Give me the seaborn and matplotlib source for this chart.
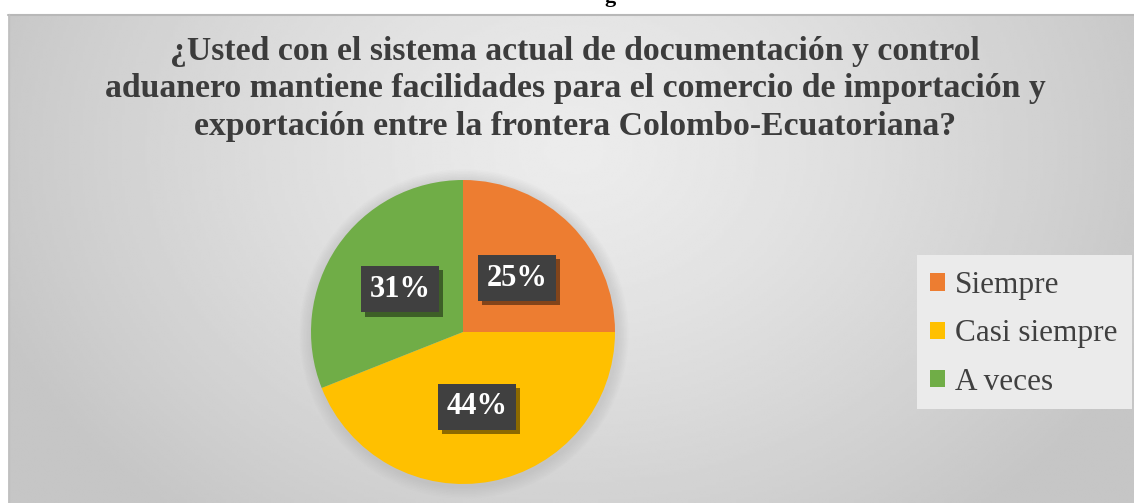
import numpy as np
import matplotlib
matplotlib.use("Agg")
import matplotlib.pyplot as plt
import matplotlib.patheffects as pe
import seaborn as sns

# Survey answers and their shares (%)
categories = ["Siempre", "Casi siempre", "A veces"]
shares = [25, 44, 31]
share_labels = ["25%", "44%", "31%"]
colors = ["#ED7D31", "#FFC000", "#70AD47"]
title_lines = [
    "¿Usted con el sistema actual de documentación y control",
    "aduanero mantiene facilidades para el comercio de importación y",
    "exportación entre la frontera Colombo-Ecuatoriana?",
]

sns.set_theme(style="white")
plt.rcParams["font.family"] = ["Liberation Serif", "DejaVu Serif"]

W, H = 1134, 503
fig = plt.figure(figsize=(W / 100, H / 100), dpi=100)
fig.patch.set_facecolor("white")

# Background panel with a soft grey gradient
bg = fig.add_axes([0, 0, 1, 1], zorder=0)
bg.set_xlim(0, W)
bg.set_ylim(H, 0)
bg.axis("off")
px0, py0 = 8, 14
gx = np.linspace(px0, W, 400)
gy = np.linspace(py0, H, 200)
GX, GY = np.meshgrid(gx, gy)
d = np.sqrt(((GX - 575) / 620) ** 2 + ((GY - 150) / 480) ** 2)
val = 0.925 - 0.15 * np.clip(d, 0, 1) ** 1.3
bg.imshow(val, cmap="gray", vmin=0, vmax=1, extent=(px0, W, H, py0),
          aspect="auto", interpolation="bilinear")
bg.plot([px0, W], [py0 + 0.5, py0 + 0.5], color="#b8b8b8", lw=1.5)
bg.plot([px0 + 0.5, px0 + 0.5], [py0, H], color="#c0c0c0", lw=1.0)
# descender of the caption above the panel
bg.text(610, 2, "g", fontsize=16, fontweight="bold", ha="center",
        va="baseline", color="black")

# Title
for i, line in enumerate(title_lines):
    bg.text(575, 51 + i * 37.5, line, ha="center", va="center",
            fontsize=24.3, fontweight="bold", color="#3c3c3c")

# Soft glow around the pie
cx, cy, R = 463, 332, 152
for k in range(8):
    bg.add_patch(plt.Circle((cx + 1, cy + 2), R + 2 + k * 1.5,
                            color="#9a9a9a", alpha=0.035, lw=0))

# Legend background box
bg.add_patch(plt.Rectangle((917, 255), 215, 154, facecolor="#ebebeb",
                           edgecolor="none", zorder=3))

# Pie
ax = fig.add_axes([(cx - R) / W, (H - cy - R) / H, 2 * R / W, 2 * R / H], zorder=2)
wedges, _ = ax.pie(shares, colors=colors, startangle=90, counterclock=False,
                   radius=1.0, wedgeprops=dict(linewidth=0))
ax.set_xlim(-1, 1)
ax.set_ylim(-1, 1)
ax.axis("off")

# Value labels in dark boxes
ang = 90.0
for w, s, lab in zip(wedges, shares, share_labels):
    mid = np.deg2rad(ang - s * 3.6 / 2)
    ang -= s * 3.6
    r = 0.5
    t = ax.text(r * np.cos(mid), r * np.sin(mid), lab, ha="center", va="center",
                fontsize=22, fontweight="bold", color="white",
                bbox=dict(boxstyle="square,pad=0.28", facecolor="#404040",
                          edgecolor="none"))
    t.get_bbox_patch().set_path_effects(
        [pe.SimplePatchShadow(offset=(3, -3), alpha=0.45, shadow_rgbFace="black"),
         pe.Normal()])

# Legend entries
leg = fig.legend(wedges, categories, loc="upper left",
                 bbox_to_anchor=(930 / W, 1 - 271 / H), frameon=False,
                 fontsize=22.5, handlelength=0.48, handleheight=0.48,
                 handletextpad=0.32, labelspacing=0.62, borderpad=0,
                 borderaxespad=0)
for txt in leg.get_texts():
    txt.set_color("#404040")

fig.savefig("out.png", dpi=100)
